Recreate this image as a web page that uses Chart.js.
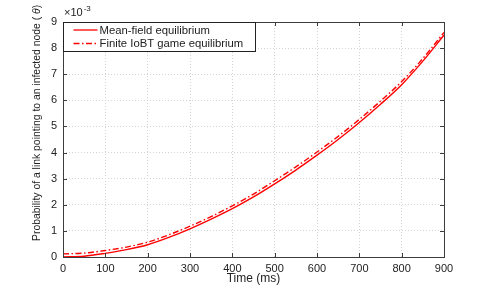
<!DOCTYPE html>
<html>
<head>
<meta charset="utf-8">
<script src="https://cdn.jsdelivr.net/npm/chart.js@4"></script>
<style>
  html, body { margin: 0; padding: 0; background: #fff; }
  #wrap { width: 491px; height: 289px; }
</style>
</head>
<body>
<div id="wrap"><canvas id="grafico" width="491" height="289"></canvas></div>
<script>
// Tiempo (ms)
const tiempos = [0, 50, 100, 150, 200, 250, 300, 350, 400, 450, 500, 550, 600, 650, 700, 750, 800, 850, 900];
// Probabilidad (en unidades de 10^-3)
const campoMedio = [0, 0.03, 0.14, 0.28, 0.47, 0.75, 1.08, 1.45, 1.85, 2.3, 2.8, 3.33, 3.9, 4.5, 5.15, 5.85, 6.6, 7.5, 8.5];
const juegoFinito = [0.12, 0.15, 0.25, 0.38, 0.57, 0.85, 1.18, 1.55, 1.96, 2.41, 2.92, 3.45, 4.02, 4.62, 5.27, 5.97, 6.72, 7.6, 8.6];
const etiquetasSerie = ["Mean-field equilibrium", "Finite IoBT game equilibrium"];
const ticksX = [0, 100, 200, 300, 400, 500, 600, 700, 800, 900];
const ticksY = [0, 1, 2, 3, 4, 5, 6, 7, 8, 9];

const FUENTE = "Liberation Sans, Arial, Helvetica, sans-serif";
const ROJO = "#ff0000";
const EJE = "#3c3c3c";
const GUION = [6, 2.5, 1.5, 2.5];

const puntos = (ys) => tiempos.map((t, i) => ({ x: t, y: ys[i] / 1000 }));

// Dibuja caja, marcas, leyenda y titulos al estilo MATLAB
const estiloMatlab = {
    id: "estiloMatlab",
    afterDraw(chart) {
        const ctx = chart.ctx;
        const a = chart.chartArea;
        const sx = chart.scales.x, sy = chart.scales.y;
        ctx.save();
        // caja
        ctx.strokeStyle = EJE;
        ctx.lineWidth = 1;
        ctx.strokeRect(Math.round(a.left) + 0.5, Math.round(a.top) + 0.5,
            Math.round(a.right - a.left), Math.round(a.bottom - a.top));
        // marcas hacia dentro
        ctx.beginPath();
        ticksX.forEach(v => {
            const x = Math.round(sx.getPixelForValue(v)) + 0.5;
            ctx.moveTo(x, a.bottom); ctx.lineTo(x, a.bottom - 4);
            ctx.moveTo(x, a.top); ctx.lineTo(x, a.top + 4);
        });
        ticksY.forEach(v => {
            const y = Math.round(sy.getPixelForValue(v / 1000)) + 0.5;
            ctx.moveTo(a.left, y); ctx.lineTo(a.left + 4, y);
            ctx.moveTo(a.right, y); ctx.lineTo(a.right - 4, y);
        });
        ctx.stroke();

        // multiplicador x10^-3
        ctx.fillStyle = "#222";
        ctx.textBaseline = "alphabetic";
        ctx.textAlign = "left";
        ctx.font = "11px " + FUENTE;
        ctx.fillText("\u00d710", a.left + 1, a.top - 6);
        const w = ctx.measureText("\u00d710").width;
        ctx.font = "8px " + FUENTE;
        ctx.fillText("-3", a.left + 1 + w + 1, a.top - 11);

        // leyenda
        const lx = Math.round(a.left) + 0.5, ly = Math.round(a.top) + 0.5;
        ctx.fillStyle = "#fff";
        ctx.fillRect(lx, ly, 192, 29);
        ctx.strokeStyle = "#222";
        ctx.strokeRect(lx, ly, 192, 29);
        const filas = [ly + 7.5, ly + 21];
        ctx.strokeStyle = ROJO;
        ctx.lineWidth = 1.3;
        filas.forEach((y, i) => {
            ctx.setLineDash(i === 0 ? [] : GUION);
            ctx.beginPath();
            ctx.moveTo(lx + 10, y); ctx.lineTo(lx + 34, y);
            ctx.stroke();
        });
        ctx.setLineDash([]);
        ctx.fillStyle = "#222";
        ctx.font = "11.3px " + FUENTE;
        ctx.textBaseline = "middle";
        etiquetasSerie.forEach((t, i) => ctx.fillText(t, lx + 36, filas[i] + 0.5));

        // titulo eje x
        ctx.textAlign = "center";
        ctx.textBaseline = "middle";
        ctx.font = "12px " + FUENTE;
        ctx.fillText("Time (ms)", (a.left + a.right) / 2, 279);

        // titulo eje y (rotado)
        ctx.translate(37, 241);
        ctx.rotate(-Math.PI / 2);
        ctx.textAlign = "left";
        const base = "Probability of a link pointing to an infected node ( ";
        ctx.font = "10.4px " + FUENTE;
        ctx.fillText(base, 0, 0);
        const wb = ctx.measureText(base).width;
        ctx.font = "italic 10.4px " + FUENTE;
        ctx.fillText("\u03b8", wb, 0);
        const wt = ctx.measureText("\u03b8").width;
        ctx.font = "10.4px " + FUENTE;
        ctx.fillText(")", wb + wt, 0);
        ctx.restore();
    }
};

new Chart(document.getElementById("grafico").getContext("2d"), {
    type: "line",
    data: {
        datasets: [
            {
                label: etiquetasSerie[0],
                data: puntos(campoMedio),
                borderColor: ROJO,
                borderWidth: 1.4,
                pointRadius: 0,
                cubicInterpolationMode: "monotone"
            },
            {
                label: etiquetasSerie[1],
                data: puntos(juegoFinito),
                borderColor: ROJO,
                borderWidth: 1.4,
                borderDash: GUION,
                pointRadius: 0,
                cubicInterpolationMode: "monotone"
            }
        ]
    },
    options: {
        responsive: false,
        animation: false,
        layout: { padding: { left: 0, right: 47, top: 22, bottom: 0 } },
        plugins: { legend: { display: false }, tooltip: { enabled: false } },
        scales: {
            x: {
                type: "linear",
                min: 0,
                max: 900,
                afterBuildTicks: (s) => { s.ticks = ticksX.map(v => ({ value: v })); },
                afterFit: (s) => { s.height = 32; },
                grid: { color: "#d4d4d4", drawTicks: false },
                border: { display: false, dash: [1, 2] },
                ticks: { padding: 5, color: "#222", font: { family: FUENTE, size: 11 }, maxRotation: 0 }
            },
            y: {
                min: 0,
                max: 0.009,
                afterBuildTicks: (s) => { s.ticks = ticksY.map(v => ({ value: v / 1000 })); },
                afterFit: (s) => { s.width = 63; },
                grid: { color: "#d4d4d4", drawTicks: false },
                border: { display: false, dash: [1, 2] },
                ticks: {
                    padding: 6,
                    color: "#222",
                    font: { family: FUENTE, size: 11 },
                    callback: (v) => String(Math.round(v * 1000))
                }
            }
        }
    },
    plugins: [estiloMatlab]
});
</script>
</body>
</html>
